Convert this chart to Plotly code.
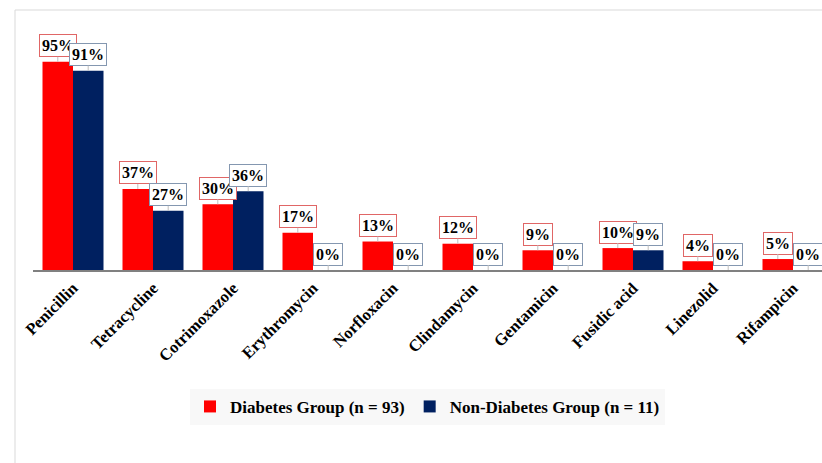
import plotly.graph_objects as go

categories = ["Penicillin", "Tetracycline", "Cotrimoxazole", "Erythromycin", "Norfloxacin",
              "Clindamycin", "Gentamicin", "Fusidic acid", "Linezolid", "Rifampicin"]
diabetes = [95, 37, 30, 17, 13, 12, 9, 10, 4, 5]
non_diabetes = [91, 27, 36, 0, 0, 0, 0, 9, 0, 0]
series_names = ["Diabetes Group (n = 93)", "Non-Diabetes Group (n = 11)"]

RED = "#ff0000"
NAVY = "#002060"
FONT = "Liberation Serif"

fig = go.Figure()
fig.add_trace(go.Bar(x=categories, y=diabetes, name=f"<b>{series_names[0]}</b>",
                     marker=dict(color=RED, line=dict(width=0))))
fig.add_trace(go.Bar(x=categories, y=non_diabetes, name=f"<b>{series_names[1]}</b>",
                     marker=dict(color=NAVY, line=dict(width=0))))

annotations = []
for vals, shift, bcol in [(diabetes, -15.2, "#e06666"), (non_diabetes, 15.2, "#8497b0")]:
    for c, v in zip(categories, vals):
        annotations.append(dict(
            x=c, y=v, xshift=shift, text=f"<b>{v}%</b>",
            showarrow=True, arrowhead=0, arrowwidth=1, arrowcolor="#bfbfbf",
            ax=0, ay=-16, font=dict(family=FONT, size=16, color="black"),
            bgcolor="white", bordercolor=bcol, borderwidth=1, borderpad=2,
        ))

fig.update_layout(
    width=822, height=463,
    margin=dict(l=33, r=0, t=29, b=193),
    paper_bgcolor="white", plot_bgcolor="white",
    barmode="group", bargap=0.2375, bargroupgap=0,
    showlegend=True,
    legend=dict(orientation="h", x=0.5, xanchor="center", y=-0.568, yanchor="middle",
                bgcolor="#f8f8f8", font=dict(family=FONT, size=17, color="black"),
                traceorder="normal", itemclick=False, entrywidthmode="pixels"),
    annotations=annotations,
    xaxis=dict(range=[-0.5, 9.3625], showline=True, linecolor="#808080", linewidth=2,
               tickangle=-45, tickfont=dict(family=FONT, size=16.5, color="black"),
               showgrid=False, ticks="", zeroline=False),
    yaxis=dict(range=[0, 110], visible=False, showgrid=False, zeroline=False),
    shapes=[dict(type="rect", xref="paper", yref="paper", x0=-0.0228, x1=1.05, y0=-1.2, y1=1.0788,
                 line=dict(color="#d9d9d9", width=1), fillcolor="rgba(0,0,0,0)", layer="below")],
    font=dict(family=FONT),
)
fig.update_xaxes(tickprefix="<b>", ticksuffix="</b>")
fig.update_traces(hoverinfo="skip")
fig.write_html("out.html")
